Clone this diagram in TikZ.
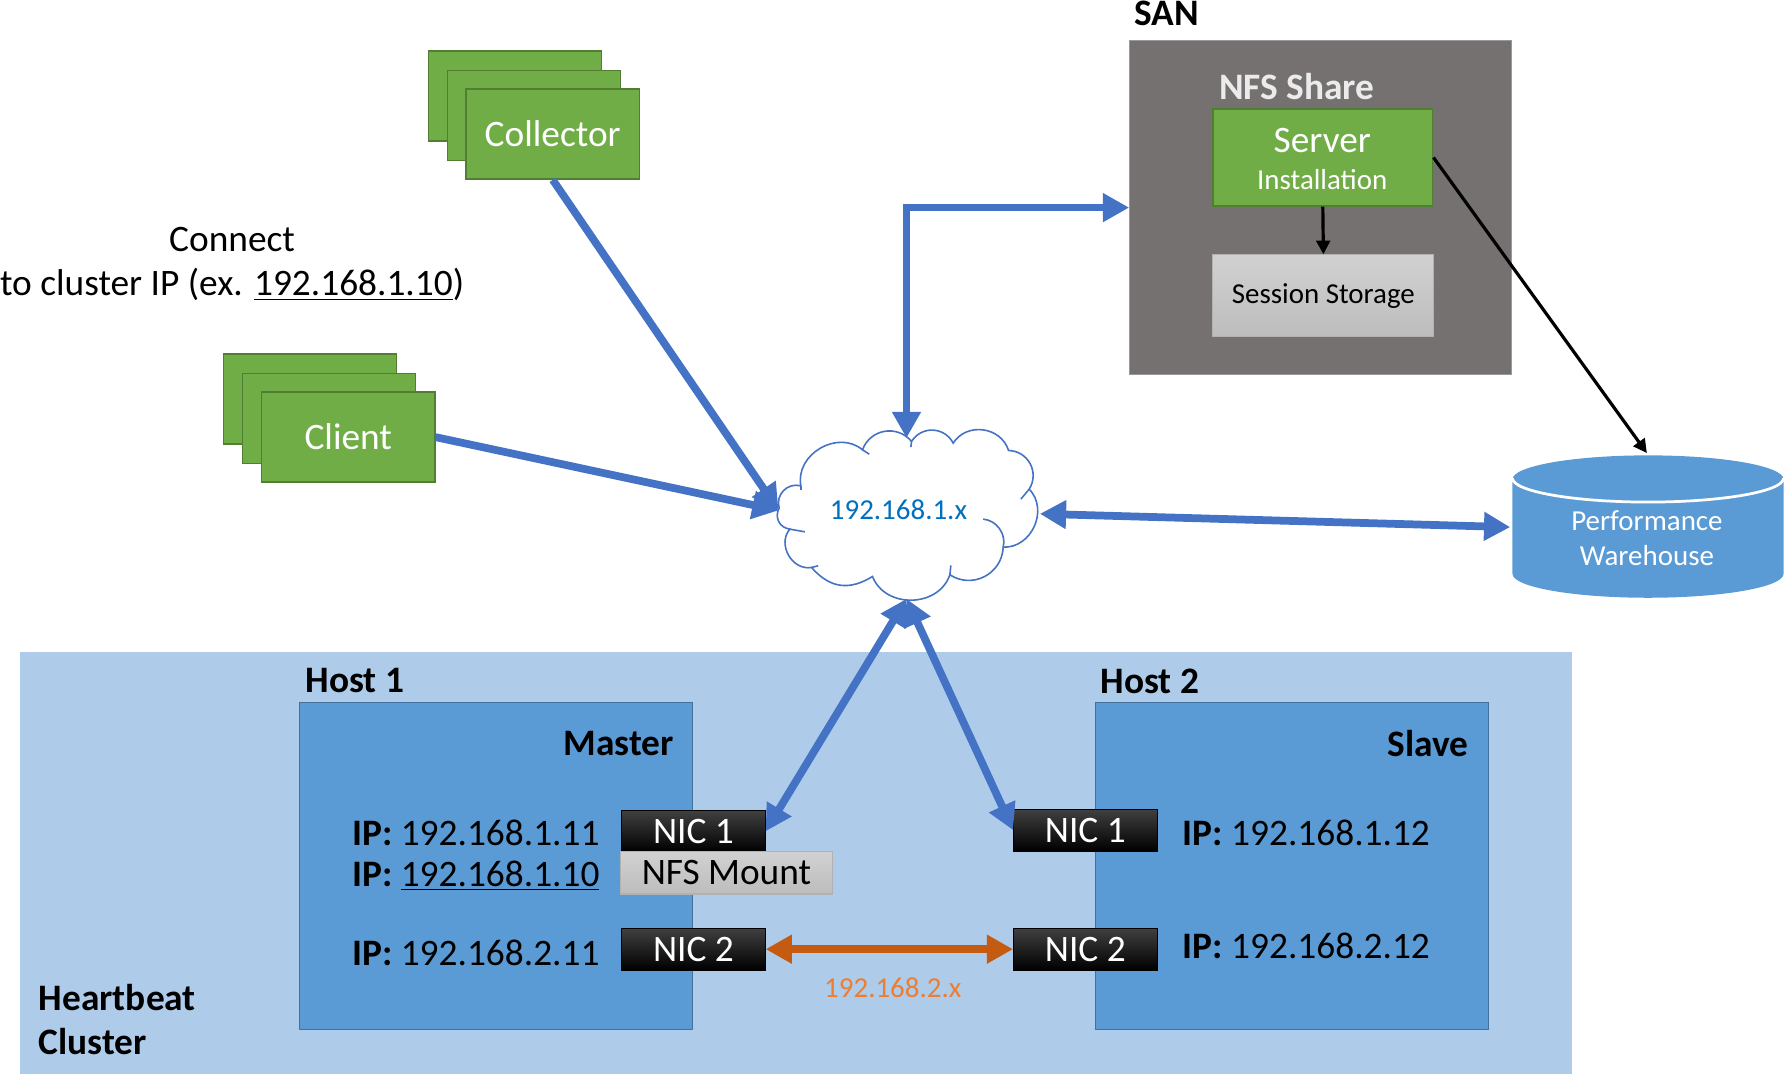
\documentclass[tikz,border=0pt]{standalone}
\usepackage{fontspec}
\setmainfont{Carlito}
\usetikzlibrary{arrows.meta}

\definecolor{nodegreen}{HTML}{70AD47}
\definecolor{greenedge}{HTML}{507E32}
\definecolor{sangray}{HTML}{767171}
\definecolor{hostblue}{HTML}{5B9BD5}
\definecolor{hostedge}{HTML}{41719C}
\definecolor{clusterblue}{HTML}{AECCEA}
\definecolor{netblue}{HTML}{4472C4}
\definecolor{netlabel}{HTML}{0070C0}
\definecolor{hbarrow}{HTML}{C55A11}
\definecolor{hblabel}{HTML}{ED7D31}

\newcommand{\bigtext}{\fontsize{16.4}{19.5}\selectfont}
\newcommand{\smalltext}{\fontsize{12.7}{15.5}\selectfont}

\tikzset{
  stackbox/.style={draw=greenedge, fill=nodegreen, line width=0.65pt, minimum width=76pt, minimum height=39.5pt, inner sep=0pt, text=white, font=\bigtext},
  hostbox/.style={draw=hostedge, fill=hostblue, line width=0.65pt, minimum width=172.5pt, minimum height=143.5pt, inner sep=0pt},
  nicbox/.style={top color=black!75, middle color=black, bottom color=black, draw=black, line width=0.4pt, minimum width=63pt, minimum height=18.3pt, inner sep=0pt, text=white, font=\bigtext},
  graybox/.style={top color=black!18, bottom color=black!26, draw=black!30, line width=0.5pt, inner sep=0pt, text=black},
  plaintext/.style={inner sep=0pt, font=\bigtext},
  boldtext/.style={inner sep=0pt, font=\bigtext\bfseries},
  netarrow/.style={draw=netblue, line width=3.4pt, {Triangle[width=12pt,length=11.5pt]}-{Triangle[width=12pt,length=11.5pt]}},
  oneway/.style={draw=netblue, line width=3.4pt, -{Triangle[width=12pt,length=11.5pt]}},
  puff/.style={bend left=#1, looseness=1.15},
  puff/.default=65
}

\begin{document}
\begin{tikzpicture}[x=0.5pt, y=-0.5pt]
    \useasboundingbox (0.25,0.25) rectangle (1567.25,942.25);

    % Cluster
    \fill[clusterblue] (18,573) rectangle (1380,943);
    \node[hostbox] (hostA) at (435.5,760.5) {};
    \node[hostbox] (hostB) at (1134.5,760.5) {};
    \node[boldtext, anchor=west] (hostAname) at (268,598) {Host 1};
    \node[boldtext, anchor=west] (hostBname) at (966,598) {Host 2};
    \node[boldtext, anchor=east] (master) at (592,653) {Master};
    \node[boldtext, anchor=east] (slave) at (1290,653) {Slave};
    \node[boldtext, anchor=west, align=left] (cluster) at (34,895.5) {Heartbeat\\Cluster};

    \node[nicbox] (nicA) at (609,730) {NIC 1};
    \node[nicbox] (nicB) at (609,833.5) {NIC 2};
    \node[nicbox] (nicC) at (953,729) {NIC 1};
    \node[nicbox] (nicD) at (953,833.5) {NIC 2};
    \node[graybox, minimum width=93pt, minimum height=18.5pt, font=\bigtext] (mount) at (638,766.5) {NFS Mount};

    \node[plaintext, anchor=west] (ipA) at (309,731) {\textbf{IP:} 192.168.1.11};
    \node[plaintext, anchor=west] (ipB) at (309,769) {\textbf{IP:} \underline{192.168.1.10}};
    \node[plaintext, anchor=west] (ipC) at (309,837) {\textbf{IP:} 192.168.2.11};
    \node[plaintext, anchor=west] (ipD) at (1038,731) {\textbf{IP:} 192.168.1.12};
    \node[plaintext, anchor=west] (ipE) at (1038,831) {\textbf{IP:} 192.168.2.12};
    \node[inner sep=0pt, text=hblabel, font=\smalltext] (hbnet) at (784,867) {192.168.2.x};

    % Clients
    \node[stackbox] (collectorA) at (452.5,84.5) {};
    \node[stackbox] (collectorB) at (469,101.5) {};
    \node[stackbox] (collector) at (485.5,118) {Collector};
    \node[stackbox] (clientA) at (272.5,350.5) {};
    \node[stackbox] (clientB) at (289,367.5) {};
    \node[stackbox] (client) at (306,384) {Client};
    \node[plaintext, align=center] (connect) at (204,232) {Connect\\to cluster IP (ex. \underline{192.168.1.10})};

    % SAN
    \node[boldtext, anchor=west] (sanname) at (996,12) {SAN};
    \node[fill=sangray, draw=black!40, line width=0.5pt, minimum width=167.5pt, minimum height=146.5pt, inner sep=0pt] (san) at (1159.5,182.5) {};
    \node[boldtext, anchor=west, text=white!92!black] (share) at (1070,76) {NFS Share};
    \node[draw=greenedge, fill=nodegreen, line width=0.65pt, minimum width=96.5pt, minimum height=42.5pt, inner sep=0pt] (server) at (1161.5,138.5) {};
    \node[inner sep=0pt, text=white, align=center, font=\fontsize{16.4}{16}\selectfont] (servername) at (1161,140) {Server\\{\smalltext Installation}};
    \node[graybox, minimum width=97pt, minimum height=36pt, font=\smalltext, text height=9.5pt, text depth=3pt] (storage) at (1162,260) {Session Storage};

    % Warehouse
    \fill[hostblue] (1328,421) arc[start angle=180, end angle=0, x radius=119, y radius=-21] -- (1566,504) arc[start angle=0, end angle=180, x radius=119, y radius=21] -- cycle;
    \draw[white, line width=1.2pt] (1328,420) arc[start angle=180, end angle=0, x radius=119, y radius=21];
    \node[inner sep=0pt, text=white, align=center, font=\fontsize{12.7}{15.5}\selectfont] (warehouse) at (1446,473) {Performance\\Warehouse};
    \coordinate (whtop) at (1446,398);
    \coordinate (whleft) at (1326,463);

    % Cloud
    \begin{scope}[shift={(649.7,351.2)}, scale=0.2927, draw=netblue, line width=0.7pt]
      \coordinate (cloudleft) at (116,332);
      \coordinate (cloudtop) at (500,115);
      \coordinate (cloudright) at (900,342);
      \coordinate (cloudbottom) at (500,597);
      \draw[fill=white] (118,325) to[puff=60] (183,258) to[puff=70] (368,150) to[puff=60] (515,125)
        to[puff=60] (640,130) to[puff=65] (806,152) to[puff=60] (868,268) to[puff=68] (790,442)
        to[puff=60] (630,525) to[puff=70] (398,530) to[puff=40] (215,503) to[puff=70] (150,388) to[puff=55] cycle;
      \draw (183,258) -- (183,272);
      \draw (368,150) -- (388,163);
      \draw (515,125) -- (513,142);
      \draw (868,268) -- (843,298);
      \draw (790,442) to[bend right=50] (730,358);
      \draw (630,525) -- (633,497);
      \draw (215,503) -- (235,498);
      \draw (150,388) -- (195,396);
    \end{scope}
    \node[inner sep=0pt, text=netlabel, font=\smalltext] (net) at (789,448) {192.168.1.x};

    % Arrows
    \draw[oneway] (collector.south) -- (cloudleft);
    \draw[oneway] (client.east) -- (cloudleft);
    \draw[netarrow] (cloudtop) |- (san.west);
    \draw[netarrow] (cloudright) -- (whleft);
    \draw[netarrow] (cloudbottom) -- (nicA.east);
    \draw[netarrow] (cloudbottom) -- (nicC.west);
    \draw[draw=hbarrow, line width=3.4pt, {Triangle[width=12pt,length=11.5pt]}-{Triangle[width=12pt,length=11.5pt]}] (nicB.east) -- (nicD.west);
    \draw[-{Triangle[width=6pt,length=6pt]}, line width=1.4pt] (server.south) -- (storage.north);
    \draw[-{Triangle[width=6pt,length=6pt]}, line width=1.4pt] (server.east) -- (whtop);
\end{tikzpicture}
\end{document}
